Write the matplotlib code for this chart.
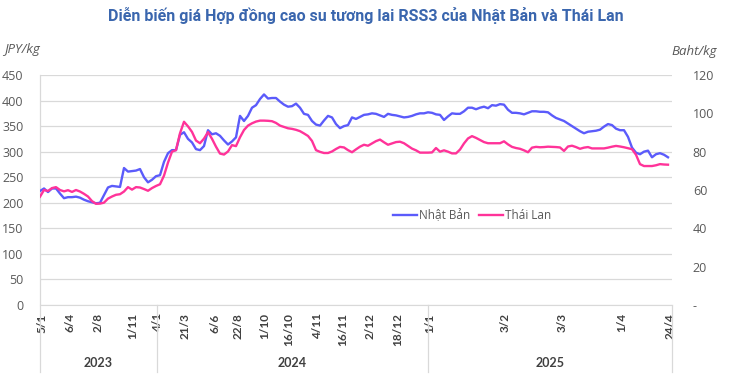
import matplotlib.pyplot as plt
import numpy as np

# RSS3 futures, Japan (JPY/kg) - one reading per step along the category axis
japan = [223, 228, 221, 228, 228, 218, 209, 211, 211, 212, 210, 206, 203, 201, 199, 200,
         215, 230, 233, 232, 231, 268, 261, 262, 263, 266, 250, 240, 245, 252, 254, 280,
         297, 303, 303, 333, 338, 325, 318, 305, 303, 311, 342, 334, 336, 331, 322, 314,
         320, 328, 370, 360, 370, 386, 391, 403, 412, 404, 405, 405, 398, 392, 388, 389,
         394, 386, 374, 372, 360, 353, 351, 361, 370, 367, 354, 346, 350, 352, 367, 364,
         368, 372, 373, 375, 374, 371, 368, 374, 372, 371, 369, 367, 368, 370, 373, 375,
         375, 377, 376, 373, 372, 362, 369, 375, 374, 374, 379, 386, 386, 383, 386, 388,
         385, 391, 390, 393, 392, 382, 376, 376, 375, 373, 376, 379, 379, 378, 378, 377,
         371, 366, 363, 360, 355, 350, 345, 340, 336, 339, 340, 341, 343, 349, 354, 352,
         345, 342, 342, 329, 308, 298, 295, 300, 302, 289, 295, 297, 294, 289]

# RSS3 futures, Thailand (Baht/kg)
thailand = [56.5, 60.0, 59.5, 61.0, 61.5, 60.0, 59.3, 59.9, 59.0, 60.0, 59.2, 58.0, 56.6,
            54.2, 52.8, 52.9, 53.4, 55.5, 56.6, 57.5, 57.8, 59.2, 61.5, 60.2, 61.5, 61.3,
            60.5, 59.6, 61.0, 62.1, 63.0, 67.5, 74.3, 80.0, 80.8, 89.6, 95.6, 93.2, 90.3,
            85.8, 84.4, 86.8, 90.2, 86.7, 82.6, 79.0, 78.5, 80.1, 83.4, 82.9, 87.5, 91.3,
            93.6, 94.8, 95.7, 96.2, 96.2, 96.1, 95.9, 95.0, 93.6, 92.9, 92.2, 91.9, 91.4,
            90.7, 89.5, 88.2, 85.6, 80.8, 79.9, 79.3, 79.3, 80.1, 81.4, 82.5, 82.2, 80.8,
            79.7, 81.2, 82.6, 83.6, 83.1, 84.3, 85.5, 86.3, 84.9, 83.6, 84.3, 85.0, 85.2,
            84.4, 83.0, 81.6, 80.7, 79.5, 79.5, 79.5, 79.6, 81.9, 80.0, 80.7, 80.0, 79.1,
            79.1, 81.1, 84.3, 86.9, 88.1, 87.2, 86.1, 85.0, 84.4, 84.4, 84.4, 84.4, 85.4,
            83.8, 82.5, 81.9, 81.5, 80.7, 79.7, 82.1, 82.5, 82.3, 82.4, 82.6, 82.5, 82.4,
            82.2, 80.4, 82.7, 83.1, 82.4, 81.5, 82.1, 82.4, 81.7, 81.7, 81.7, 81.7, 82.1,
            82.6, 83.0, 82.7, 82.3, 81.8, 81.3, 78.4, 73.5, 72.5, 72.5, 72.5, 72.9, 73.5,
            73.3, 73.2]

date_labels = ["5/1", "6/4", "2/8", "1/11", "4/1", "21/3", "6/6", "22/8", "1/10", "16/10",
               "4/11", "16/11", "2/12", "18/12", "1/1", "3/2", "3/3", "1/4", "24/4"]
date_pos = [0.5, 7.5, 14.5, 23.25, 29.5, 36.25, 43.75, 49.5, 56.25, 62.25,
            69.5, 75.75, 82.5, 89.5, 97.5, 116.25, 130.5, 145.5, 157.5]
years = ["2023", "2024", "2025"]
year_edges = [0, 29.25, 97, 158]

blue = "#5b5bfb"
pink = "#ff3399"
grey = "#595959"
grid = "#d9d9d9"

fig = plt.figure(figsize=(7.3, 3.86), dpi=100)
ax = fig.add_axes([40 / 730, 81 / 386, 632 / 730, 230 / 386])
ax2 = ax.twinx()

x = np.arange(len(japan))
ax.plot(x, japan, color=blue, lw=1.7, label="Nhật Bản", zorder=3)
ax2.plot(np.arange(len(thailand)), thailand, color=pink, lw=1.7, label="Thái Lan", zorder=3)

ax.set_xlim(0, 158)
ax.set_ylim(0, 450)
ax2.set_ylim(0, 120)
ax.set_yticks(range(0, 451, 50))
ax2.set_yticks(range(0, 121, 20))
ax2.set_yticklabels(["-"] + [str(v) for v in range(20, 121, 20)])
ax.grid(axis="y", color=grid, lw=0.9)
ax.set_axisbelow(True)

for a in (ax, ax2):
    for s in a.spines.values():
        s.set_visible(False)
    a.tick_params(axis="y", length=0, labelsize=9, labelcolor=grey)
ax.tick_params(axis="y", pad=12)
ax2.tick_params(axis="y", pad=15)
for lbl in ax.get_yticklabels() + ax2.get_yticklabels():
    lbl.set_fontfamily("Open Sans")

ax.spines["bottom"].set_visible(True)
ax.spines["bottom"].set_color(grid)
ax.set_xticks(date_pos)
ax.set_xticklabels(date_labels, rotation=90, fontsize=8.5, fontweight="bold",
                   color="#404040", family="Lato", va="top", ha="center")
ax.tick_params(axis="x", length=0, pad=6)

# left axis line and year separators under the category axis
ax.axvline(0, ymin=-0.29, ymax=1, color=grid, lw=0.9, clip_on=False)
for e in year_edges[1:]:
    ax.axvline(e, ymin=-0.29, ymax=0, color=grid, lw=0.9, clip_on=False)
for i, y in enumerate(years):
    ax.text((year_edges[i] + year_edges[i + 1]) / 2, -0.252, y, transform=ax.get_xaxis_transform(),
            ha="center", va="center", fontsize=9, fontweight="bold", color="#404040", family="Lato")

fig.text(40 / 730, 1 - 49 / 386, "JPY/kg", ha="right", va="center", style="italic",
         fontsize=9.5, color=grey, family="Open Sans")
fig.text(671 / 730, 1 - 51 / 386, "Baht/kg", ha="left", va="center", style="italic",
         fontsize=9.5, color=grey, family="Open Sans")
fig.text(366 / 730, 1 - 15 / 386, "Diễn biến giá Hợp đồng cao su tương lai RSS3 của Nhật Bản và Thái Lan",
         ha="center", va="center", fontsize=11.5, fontweight="bold", color="#3a66ae", family="Roboto")

h1, l1 = ax.get_legend_handles_labels()
h2, l2 = ax2.get_legend_handles_labels()
leg = ax.legend(h1 + h2, l1 + l2, loc="center", bbox_to_anchor=(0.684, 0.387), ncol=2,
                frameon=False, handlelength=2.0, handletextpad=0.2, columnspacing=0.7,
                prop={"family": "Open Sans", "size": 8.5})
for t in leg.get_texts():
    t.set_color(grey)
leg.set_zorder(5)

fig.savefig("out.png", dpi=100)
